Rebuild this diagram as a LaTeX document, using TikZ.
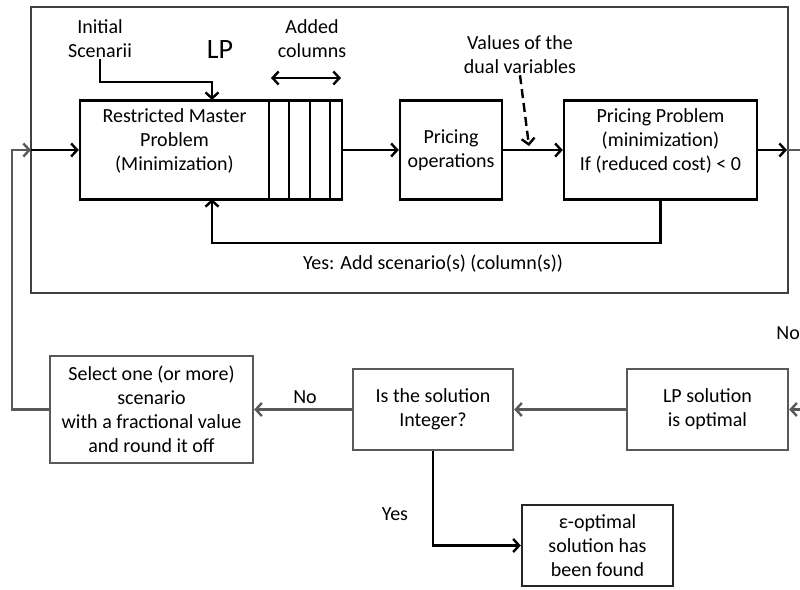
\documentclass[tikz,border=0pt]{standalone}
\usepackage{fontspec}
\setmainfont{Carlito}
\usetikzlibrary{arrows.meta}
\definecolor{linegrey}{gray}{0.35}
\tikzset{box/.style={draw,line width=2.4pt,align=center,inner sep=0pt},
	greybox/.style={box,draw=linegrey},
	lbl/.style={align=center,inner sep=1pt},
	arr/.style={line width=2.4pt,-{Straight Barb[length=6pt,width=13pt]}},
	greyarr/.style={arr,draw=linegrey}}

\begin{document}
\begin{tikzpicture}
	[x=1pt,y=-1pt, every node/.style={font=\fontsize{20}{24}\selectfont}]
	\useasboundingbox (0,0) rectangle (800,589);
	% LP frame
	\draw[line width=2.4pt,black!75] (31,7) rectangle (788,293);
	% upper row
	\node[box,minimum width=189pt,minimum height=99pt] (rmp) at (174.5,150)
		{Restricted Master\\Problem\\(Minimization)\\[-4pt]\mbox{}};
	\node[box,minimum width=73pt,minimum height=99pt] (cols) at (305.5,150) {};
	\foreach \x in {289,310,330}
		\draw[line width=2.4pt] (\x,100) -- (\x,199);
	\node[box,minimum width=102pt,minimum height=99pt] (pops) at (451,150)
		{Pricing\\operations};
	\node[box,minimum width=193pt,minimum height=99pt] (pp) at (660.5,150)
		{Pricing Problem\\(minimization)\\If (reduced cost) < 0\\[-4pt]\mbox{}};
	% labels
	\node[lbl] (init) at (100,39) {Initial\\Scenarii};
	\node[lbl,font=\fontsize{28}{32}\selectfont] (lptag) at (220,50) {LP};
	\node[lbl] (added) at (312,39) {Added\\columns};
	\node[lbl] (dual) at (520,55) {Values of the\\dual variables};
	\node[lbl] (yesadd) at (433,264) {Yes: Add scenario(s) (column(s))};
	% lower row
	\node[greybox,minimum width=203pt,minimum height=107pt] (sel) at (151.5,409.5)
		{Select one (or more)\\scenario\\with a fractional value\\and round it off};
	\node[greybox,minimum width=160pt,minimum height=81pt] (isint) at (433,409.5)
		{Is the solution\\Integer?};
	\node[greybox,minimum width=161pt,minimum height=81pt] (lpsol) at (707.5,409.5)
		{LP solution\\is optimal};
	\node[box,draw=black!85,minimum width=151pt,minimum height=81pt] (eps) at (597.5,545.5)
		{ε-optimal\\solution has\\been found};
	\node[lbl] (no) at (305,397) {No};
	\node[lbl,anchor=east,inner sep=0pt] (noright) at (800,333) {No};
	\node[lbl] (yes) at (395,514) {Yes};
	% free ends
	\coordinate (initbend) at (212,82);
	\coordinate (rmpin) at (212,100);
	\coordinate (rmpout) at (212,199);
	\coordinate (addl) at (271,78);
	\coordinate (addr) at (341,78);
	\coordinate (dualin) at (529,146);
	\coordinate (outL) at (31,150);
	\coordinate (outR) at (787,150);
	\coordinate (edgeR) at (800,150);
	\coordinate (edgeR2) at (800,409.5);
	\coordinate (loopb) at (12,409.5);
	% connectors
	\draw[arr] (init.south) |- (initbend) -- (rmpin);
	\draw[line width=2.4pt,{Straight Barb[length=6pt,width=13pt]}-{Straight Barb[length=6pt,width=13pt]}] (addl) -- (addr);
	\draw[arr] (outL) -- (rmp.west);
	\draw[arr] (cols.east) -- (pops.west);
	\draw[arr] (pops.east) -- (pp.west);
	\draw[arr,dashed,dash pattern=on 9pt off 5pt] (dual.south) -- (dualin);
	\draw[arr] (pp.south) -- ++(0,42) -| (rmpout);
	\draw[arr] (pp.east) -- (outR);
	\draw[line width=2.4pt,linegrey] (outR) -- (edgeR);
	\draw[greyarr] (edgeR2) -- (lpsol.east);
	\draw[greyarr] (lpsol.west) -- (isint.east);
	\draw[greyarr] (isint.west) -- (sel.east);
	\draw[greyarr] (sel.west) -- (loopb) |- (outL);
	\draw[arr] (isint.south) |- (eps.west);
\end{tikzpicture}
\end{document}
